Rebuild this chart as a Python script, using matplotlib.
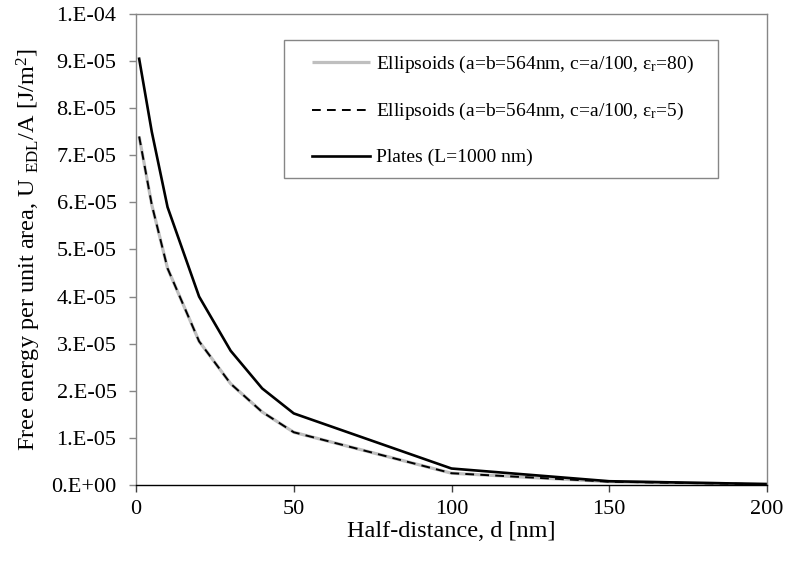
import matplotlib
matplotlib.use("Agg")
import matplotlib.pyplot as plt
from matplotlib.ticker import FuncFormatter, MultipleLocator
from matplotlib.patches import Rectangle
import numpy as np

plt.rcParams['font.family'] = ['Liberation Serif', 'DejaVu Serif']
plt.rcParams['mathtext.fontset'] = 'custom'
plt.rcParams['mathtext.rm'] = 'Liberation Serif'
plt.rcParams['mathtext.it'] = 'Liberation Serif:italic'

# Data
d_nm = [1, 5, 10, 20, 30, 40, 50, 100, 150, 200]
ell_er80 = [7.40e-5, 5.95e-5, 4.60e-5, 3.05e-5, 2.15e-5, 1.55e-5, 1.12e-5, 2.5e-6, 0.7e-6, 0.15e-6]
ell_er5 = [7.40e-5, 5.95e-5, 4.60e-5, 3.05e-5, 2.15e-5, 1.55e-5, 1.12e-5, 2.5e-6, 0.7e-6, 0.15e-6]
plates = [9.05e-5, 7.50e-5, 5.90e-5, 4.00e-5, 2.85e-5, 2.05e-5, 1.52e-5, 3.5e-6, 0.8e-6, 0.2e-6]

labels = ["Ellipsoids (a=b=564nm, c=a/100, ε$_\\mathrm{r}$=80)",
          "Ellipsoids (a=b=564nm, c=a/100, ε$_\\mathrm{r}$=5)",
          "Plates (L=1000 nm)"]
x_ticks = [0, 50, 100, 150, 200]

W, H = 785, 563
fig = plt.figure(figsize=(W / 100, H / 100), dpi=100)
ax = fig.add_axes([136 / W, (H - 485) / H, (767 - 136) / W, (485 - 14) / H])

ax.plot(d_nm, ell_er80, color='#BFBFBF', lw=2.3, label=labels[0], solid_capstyle='butt')
ax.plot(d_nm, ell_er5, color='black', lw=1.4, ls=(0, (4.5, 3.2)), label=labels[1])
ax.plot(d_nm, plates, color='black', lw=1.9, label=labels[2])

ax.set_xlim(0, 200)
ax.set_ylim(0, 1e-4)
ax.set_xticks(x_ticks)
ax.yaxis.set_major_locator(MultipleLocator(1e-5))


def yfmt(v, pos):
    if abs(v) < 1e-12:
        return "0.E+00"
    e = int(np.floor(np.log10(abs(v)) + 1e-9))
    m = v / 10 ** e
    return f"{m:.0f}.E{e:+03d}"


ax.yaxis.set_major_formatter(FuncFormatter(yfmt))

for s in ['left', 'top', 'right']:
    ax.spines[s].set_color('#868686')
    ax.spines[s].set_linewidth(1.0)
ax.spines['bottom'].set_color('black')
ax.spines['bottom'].set_linewidth(1.0)

ax.tick_params(axis='y', direction='out', length=5, width=1, color='#868686',
               labelsize=16, pad=9)
ax.tick_params(axis='x', direction='out', length=5, width=1, color='#404040',
               labelsize=16, pad=6)

ax.set_xlabel("Half-distance, d [nm]", fontsize=17.5, labelpad=1)
ax.set_ylabel("Free energy per unit area, U $_{\\mathrm{EDL}}$/A [J/m$^{2}$]",
              fontsize=17.5, labelpad=6)

# Legend frame drawn separately (wider horizontal padding than vertical)
ax.add_patch(Rectangle((284 / W, (H - 178) / H), (718 - 284) / W, (178 - 40) / H,
                       transform=fig.transFigure, facecolor='white',
                       edgecolor='#868686', lw=1.0, zorder=4, clip_on=False))
leg = ax.legend(loc='upper left', bbox_to_anchor=(312 / W, (H - 54) / H),
                bbox_transform=fig.transFigure, fontsize=14, frameon=False,
                handlelength=3.0, handletextpad=0.3, labelspacing=1.35,
                borderpad=0.0, borderaxespad=0)
leg.set_zorder(6)

fig.savefig("out.png", dpi=100)
